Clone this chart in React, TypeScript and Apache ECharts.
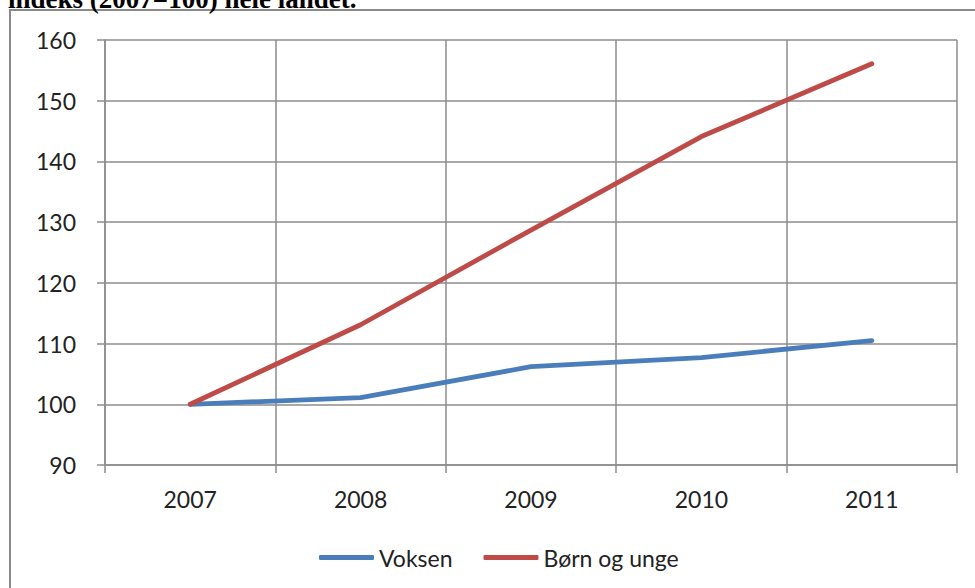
import React, { useEffect, useRef } from "react";
import * as echarts from "echarts";

const years = ["2007", "2008", "2009", "2010", "2011"];
const voksen = [100, 101.1, 106.2, 107.7, 110.5];
const bornOgUnge = [100, 113.1, 128.7, 144.1, 156.1];
const seriesNames = ["Voksen", "Børn og unge"];
const titleText = "indeks (2007=100) hele landet.";

const FONT = "Lato";
const GRID_COLOR = "#8c8c8c";

export default function App() {
  const ref = useRef<HTMLDivElement>(null);
  useEffect(() => {
    if (!ref.current) return;
    const chart = echarts.init(ref.current, undefined, { renderer: "svg" });
    chart.setOption({
      animation: false,
      backgroundColor: "#ffffff",
      grid: { left: 105, right: 18, top: 40, bottom: 123 },
      graphic: [
        {
          type: "rect",
          shape: { x: 10, y: 10, width: 990, height: 600 },
          style: { fill: "none", stroke: "#8a8a8a", lineWidth: 2 },
          silent: true,
        },
        {
          type: "text",
          x: 8,
          y: 12,
          style: {
            text: titleText,
            font: "bold 27px 'Liberation Serif'",
            fill: "#000",
            verticalAlign: "bottom",
            align: "left",
          },
        },
      ],
      legend: {
        left: 314,
        top: 541,
        icon: "roundRect",
        itemWidth: 55,
        itemHeight: 5,
        itemGap: 31,
        textStyle: { fontFamily: FONT, fontSize: 23, color: "#222" },
        data: seriesNames,
      },
      xAxis: {
        type: "category",
        data: years,
        boundaryGap: true,
        axisLine: { show: true, lineStyle: { color: GRID_COLOR, width: 1.5 } },
        axisTick: { show: true, length: 8, lineStyle: { color: GRID_COLOR, width: 1.5 } },
        splitLine: { show: true, lineStyle: { color: GRID_COLOR, width: 1.5 } },
        axisLabel: { fontFamily: FONT, fontSize: 23, color: "#222", margin: 22 },
      },
      yAxis: {
        type: "value",
        min: 90,
        max: 160,
        interval: 10,
        axisLine: { show: true, lineStyle: { color: GRID_COLOR, width: 1.5 } },
        axisTick: { show: true, length: 8, lineStyle: { color: GRID_COLOR, width: 1.5 } },
        splitLine: { show: true, lineStyle: { color: GRID_COLOR, width: 1.5 } },
        axisLabel: { fontFamily: FONT, fontSize: 23, color: "#222", margin: 29 },
      },
      series: [
        {
          name: seriesNames[0],
          type: "line",
          data: voksen,
          symbol: "none",
          color: "#4a7ebb",
          lineStyle: { width: 4.8, color: "#4a7ebb", cap: "round", join: "round" },
        },
        {
          name: seriesNames[1],
          type: "line",
          data: bornOgUnge,
          symbol: "none",
          color: "#be4b48",
          lineStyle: { width: 4.8, color: "#be4b48", cap: "round", join: "round" },
        },
      ],
    });
    return () => chart.dispose();
  }, []);
  return (
    <div
      ref={ref}
      style={{ position: "fixed", left: 0, top: 0, width: 975, height: 588 }}
    />
  );
}
